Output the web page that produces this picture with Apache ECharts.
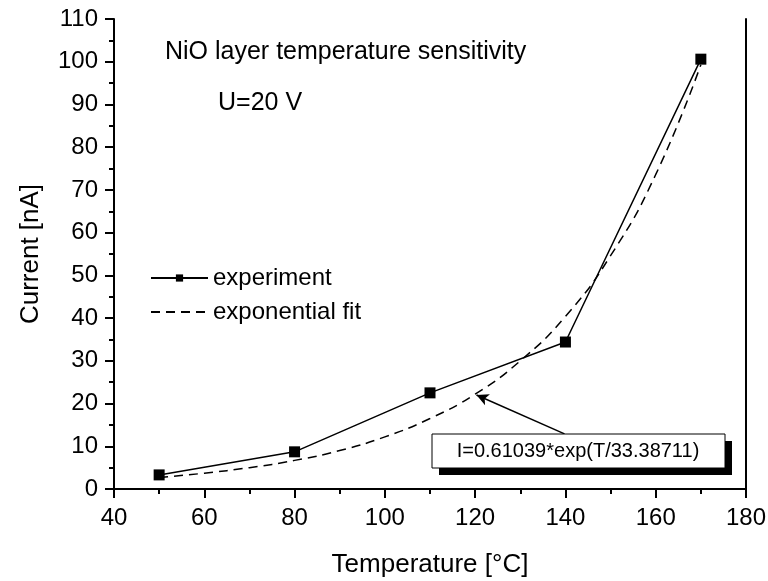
<!DOCTYPE html>
<html>
<head>
<meta charset="utf-8">
<script src="https://cdn.jsdelivr.net/npm/echarts@6/dist/echarts.min.js"></script>
<style>html,body{margin:0;padding:0;background:#fff;}#c{width:768px;height:581px;}</style>
</head>
<body>
<div id="c"></div>
<script>
var temps = [50, 80, 110, 140, 170];
var current = [3.3, 8.7, 22.5, 34.4, 100.6];
var fitT = [50, 60, 70, 80, 90, 100, 110, 120, 130, 140, 150, 160, 170];
var fitI = [2.7, 3.7, 5.0, 6.7, 9.0, 12.2, 16.5, 22.2, 30.0, 40.4, 54.6, 73.6, 99.3];
var xTicks = [40, 60, 80, 100, 120, 140, 160, 180];
var yTicks = [0, 10, 20, 30, 40, 50, 60, 70, 80, 90, 100, 110];
var arrowFrom = [139.8, 12.9];
var arrowTo = [120.3, 22.0];
var titleText = 'NiO layer temperature sensitivity';
var subText = 'U=20 V';
var fitText = 'I=0.61039*exp(T/33.38711)';

var FONT = 'Liberation Sans, Arial, sans-serif';
var chart = echarts.init(document.getElementById('c'), null, {renderer: 'canvas'});
function pairs(a, b) { return a.map(function (v, i) { return [v, b[i]]; }); }

var option = {
  animation: false,
  backgroundColor: '#fff',
  grid: {left: 114, right: 22, top: 19, bottom: 92, containLabel: false, outerBoundsMode: 'none'},
  legend: {
    orient: 'vertical', left: 145, top: 261, itemWidth: 57, itemHeight: 9, itemGap: 10,
    textStyle: {fontFamily: FONT, fontSize: 24, color: '#000'},
    data: [{name: 'experiment'}, {name: 'exponential fit', itemStyle: {opacity: 0}}]
  },
  xAxis: [{
    type: 'value', min: xTicks[0], max: xTicks[xTicks.length - 1], interval: 20,
    name: 'Temperature [°C]', nameLocation: 'middle', nameGap: 63,
    nameTextStyle: {fontFamily: FONT, fontSize: 26, color: '#000'},
    axisLine: {lineStyle: {color: '#000', width: 2}},
    axisTick: {length: 9, lineStyle: {color: '#000', width: 2}},
    minorTick: {show: true, splitNumber: 2, length: 5, lineStyle: {color: '#000', width: 2}},
    splitLine: {show: false},
    axisLabel: {fontFamily: FONT, fontSize: 24, color: '#000', margin: 17}
  }, {
    type: 'value', position: 'top', min: xTicks[0], max: xTicks[xTicks.length - 1],
    axisLine: {show: true, lineStyle: {color: '#000', width: 2}},
    axisTick: {show: false}, axisLabel: {show: false}, splitLine: {show: false}
  }],
  yAxis: [{
    type: 'value', min: yTicks[0], max: yTicks[yTicks.length - 1], interval: 10,
    name: 'Current [nA]', nameLocation: 'middle', nameGap: 70,
    nameTextStyle: {fontFamily: FONT, fontSize: 26, color: '#000'},
    axisLine: {show: true, lineStyle: {color: '#000', width: 2}},
    axisTick: {show: true, length: 9, lineStyle: {color: '#000', width: 2}},
    minorTick: {show: true, splitNumber: 2, length: 5, lineStyle: {color: '#000', width: 2}},
    splitLine: {show: false},
    axisLabel: {fontFamily: FONT, fontSize: 24, color: '#000', margin: 16}
  }, {
    type: 'value', position: 'right', min: yTicks[0], max: yTicks[yTicks.length - 1],
    axisLine: {show: true, lineStyle: {color: '#000', width: 2}},
    axisTick: {show: false}, axisLabel: {show: false}, splitLine: {show: false}
  }],
  series: [{
    name: 'exponential fit', type: 'line', smooth: true, symbol: 'none',
    data: pairs(fitT, fitI), z: 2,
    itemStyle: {color: '#000'},
    lineStyle: {color: '#000', width: 1.5, type: [9, 6]},
    markLine: {
      silent: true, symbol: ['none', 'arrow'], symbolSize: [9, 12],
      label: {show: false},
      lineStyle: {color: '#000', width: 1.5, type: 'solid'},
      data: [[{coord: arrowFrom}, {coord: arrowTo}]]
    }
  }, {
    name: 'experiment', type: 'line', symbol: 'rect', symbolSize: 11,
    data: pairs(temps, current), z: 3,
    itemStyle: {color: '#000'},
    lineStyle: {color: '#000', width: 1.5}
  }],
  graphic: [
    {type: 'text', left: 165, top: 40, style: {text: titleText, font: '25px ' + FONT, fill: '#000'}},
    {type: 'text', left: 218, top: 91, style: {text: subText, font: '25px ' + FONT, fill: '#000'}},
    {type: 'rect', shape: {x: 439, y: 441, width: 293, height: 34}, style: {fill: '#000'}, z: 10},
    {type: 'rect', shape: {x: 432, y: 434, width: 293, height: 34}, style: {fill: '#fff', stroke: '#000', lineWidth: 1}, z: 11},
    {type: 'text', x: 578, y: 451, style: {text: fitText, font: '20px ' + FONT, fill: '#000', textAlign: 'center', textVerticalAlign: 'middle'}, z: 12}
  ]
};
chart.setOption(option);
</script>
</body>
</html>
